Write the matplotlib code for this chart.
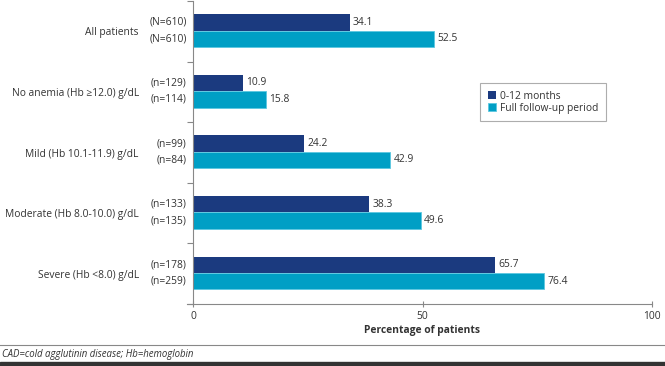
import matplotlib
matplotlib.use("Agg")
import matplotlib.pyplot as plt
import numpy as np

plt.rcParams['font.family'] = ['Open Sans', 'DejaVu Sans']

categories = ["All patients", "No anemia (Hb \u226512.0) g/dL", "Mild (Hb 10.1-11.9) g/dL",
              "Moderate (Hb 8.0-10.0) g/dL", "Severe (Hb <8.0) g/dL"]
vals_12m = [34.1, 10.9, 24.2, 38.3, 65.7]
vals_full = [52.5, 15.8, 42.9, 49.6, 76.4]
n_12m = ["(N=610)", "(n=129)", "(n=99)", "(n=133)", "(n=178)"]
n_full = ["(N=610)", "(n=114)", "(n=84)", "(n=135)", "(n=259)"]
series_names = ["0-12 months", "Full follow-up period"]
xticks = [0, 50, 100]

c_dark = "#1b3a7f"
c_light = "#009fc5"
txt = "#333333"
fs = 7.4

fig = plt.figure(figsize=(6.65, 3.66), dpi=100)
ax = fig.add_axes([193/665, 1 - 304/366, (652-193)/665, (304-1)/366])

y = np.arange(len(categories))
h = 0.27
off = 0.012
ax.barh(y - h/2 - off, vals_12m, height=h, color=c_dark, label=series_names[0])
ax.barh(y + h/2 - off, vals_full, height=h, color=c_light, label=series_names[1],
        edgecolor="#5cc8e0", linewidth=0.6)

for yy, v in zip(y - h/2 - off, vals_12m):
    ax.annotate(f"{v:.1f}", (v, yy), xytext=(2.5, 0), textcoords="offset points",
                ha="left", va="center", fontsize=fs, color=txt)
for yy, v in zip(y + h/2 - off, vals_full):
    ax.annotate(f"{v:.1f}", (v, yy), xytext=(2.5, 0), textcoords="offset points",
                ha="left", va="center", fontsize=fs, color=txt)

for yy, s in zip(y - h/2 - off, n_12m):
    ax.annotate(s, (0, yy), xytext=(-4.5, 0), textcoords="offset points",
                ha="right", va="center", fontsize=fs, color=txt, annotation_clip=False)
for yy, s in zip(y + h/2 - off, n_full):
    ax.annotate(s, (0, yy), xytext=(-4.5, 0), textcoords="offset points",
                ha="right", va="center", fontsize=fs, color=txt, annotation_clip=False)

ax.set_ylim(len(categories) - 0.5, -0.5)
ax.set_xlim(0, 100)
ax.set_yticks(y)
ax.set_yticklabels(categories, fontsize=fs, color=txt)
ax.tick_params(axis='y', which='major', length=0, pad=39)
ax.set_yticks(np.arange(len(categories) + 1) - 0.5, minor=True)
ax.tick_params(axis='y', which='minor', length=4, color="#888888", width=0.8)

ax.set_xticks(xticks)
ax.set_xticklabels([str(t) for t in xticks], fontsize=fs, color=txt)
ax.tick_params(axis='x', length=4, direction='inout', color="#888888", width=0.8, pad=3)
ax.set_xlabel("Percentage of patients", fontsize=fs, fontweight='bold', color=txt, labelpad=2)

for s in ["top", "right"]:
    ax.spines[s].set_visible(False)
ax.spines["left"].set_color("#888888")
ax.spines["bottom"].set_color("#888888")
ax.spines["left"].set_linewidth(0.8)
ax.spines["bottom"].set_linewidth(0.8)
ax.spines["bottom"].set_bounds(-1.3, 100)

leg = ax.legend(loc="upper left", bbox_to_anchor=((480-193)/459, 1 - (83-1)/303),
                borderaxespad=0, fontsize=fs, frameon=True, fancybox=False, handlelength=0.8,
                handleheight=0.8, handletextpad=0.35, borderpad=0.75, labelspacing=0.1)
leg.get_frame().set_edgecolor("#999999")
leg.get_frame().set_linewidth(0.8)
for t in leg.get_texts():
    t.set_color(txt)

fig.add_artist(plt.Line2D([0, 1], [1 - 345/366, 1 - 345/366], color="#888888", lw=0.8))
fig.text(2/665, 1 - 355/366, "CAD=cold agglutinin disease; Hb=hemoglobin", fontsize=6.9,
         style='italic', color=txt, va='center', ha='left')
fig.add_artist(plt.Rectangle((0, 0), 1, 4/366, transform=fig.transFigure, color="#333333"))

fig.savefig("out.png", dpi=100)
